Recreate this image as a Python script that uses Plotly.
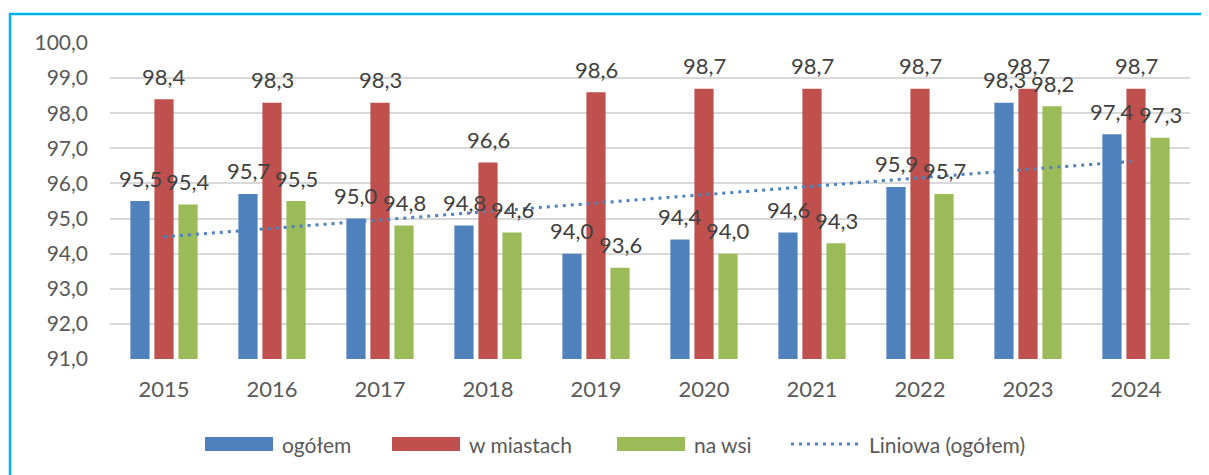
import numpy as np
import plotly.graph_objects as go

# ---- data ----
years = ["2015", "2016", "2017", "2018", "2019", "2020", "2021", "2022", "2023", "2024"]
ogolem = [95.5, 95.7, 95.0, 94.8, 94.0, 94.4, 94.6, 95.9, 98.3, 97.4]
w_miastach = [98.4, 98.3, 98.3, 96.6, 98.6, 98.7, 98.7, 98.7, 98.7, 98.7]
na_wsi = [95.4, 95.5, 94.8, 94.6, 93.6, 94.0, 94.3, 95.7, 98.2, 97.3]
series_names = ["ogółem", "w miastach", "na wsi", "Liniowa (ogółem)"]
y_ticks = [91, 92, 93, 94, 95, 96, 97, 98, 99, 100]

# ---- style ----
COLORS = ["#4F81BD", "#C0504D", "#9BBB59"]
FONT = "Lato"
TXT = "#595959"
LBL = "#404040"
OFF = 8  # default page body margin
W, H = 1209 - OFF, 475 - OFF
L, R, T, B = 110 - OFF, 1190 - OFF, 43 - OFF, 359 - OFF  # plot area in figure px


def px2x(px):
    return (px - OFF - L) / (R - L)


def py2y(py):
    return (B - (py - OFF)) / (B - T)


fig = go.Figure()
series = [ogolem, w_miastach, na_wsi]
for vals, name, col in zip(series, series_names[:3], COLORS):
    fig.add_trace(go.Bar(
        x=years, y=vals, name=name, marker_color=col,
        marker_line_width=0, showlegend=False,
    ))

# linear trend of ogółem
idx = np.arange(1, len(years) + 1)
slope, intercept = np.polyfit(idx, ogolem, 1)
trend = slope * idx + intercept
fig.add_trace(go.Scatter(
    x=years, y=trend, mode="lines", name=series_names[3],
    line=dict(color=COLORS[0], width=3, dash="3px,5px"), showlegend=False,
))

# data labels
annotations = []
offsets = [-24, 0, 24]
for vals, off in zip(series, offsets):
    for i, v in enumerate(vals):
        annotations.append(dict(
            x=i, y=v, xref="x", yref="y", text=f"{v:.1f}".replace(".", ","),
            showarrow=False, xshift=off, yshift=23,
            font=dict(family=FONT, size=22, color=LBL),
        ))

# custom legend
shapes = []
legend_items = [
    (205, 273, 280, "bar", COLORS[0], series_names[0]),
    (392, 460, 467, "bar", COLORS[1], series_names[1]),
    (617, 685, 692, "bar", COLORS[2], series_names[2]),
    (791, 861, 867, "line", COLORS[0], series_names[3]),
]
for x0, x1, tx, kind, col, name in legend_items:
    if kind == "bar":
        shapes.append(dict(type="rect", xref="paper", yref="paper",
                           x0=px2x(x0), x1=px2x(x1), y0=py2y(451), y1=py2y(437),
                           fillcolor=col, line_width=0))
    else:
        shapes.append(dict(type="line", xref="paper", yref="paper",
                           x0=px2x(x0), x1=px2x(x1), y0=py2y(444), y1=py2y(444),
                           line=dict(color=col, width=3, dash="3px,5px")))
    annotations.append(dict(
        x=px2x(tx), y=py2y(444), xref="paper", yref="paper", text=name,
        xanchor="left", yanchor="middle", showarrow=False,
        font=dict(family=FONT, size=21, color=TXT),
    ))

# outer cyan frame
shapes.append(dict(type="rect", xref="paper", yref="paper",
                   x0=px2x(10), x1=px2x(1215), y0=py2y(480), y1=py2y(14),
                   line=dict(color="#00B0F0", width=2.5), fillcolor="rgba(0,0,0,0)",
                   layer="above"))

fig.update_layout(
    width=W, height=H,
    margin=dict(l=L, r=W - R, t=T, b=H - B, pad=0),
    paper_bgcolor="white", plot_bgcolor="white",
    barmode="group", bargap=0.333, bargroupgap=0.2,
    separators=", ",
    font=dict(family=FONT, size=20, color=TXT),
    showlegend=False,
    annotations=annotations, shapes=shapes,
    xaxis=dict(type="category", showgrid=False, showline=False, zeroline=False,
               range=[-0.5, len(years) - 0.5],
               tickfont=dict(family=FONT, size=22, color=TXT), ticks="",
               ticklabelstandoff=15),
    yaxis=dict(range=[91, 100], tickvals=y_ticks, tickformat=".1f",
               showgrid=True, gridcolor="#D9D9D9", gridwidth=2,
               zeroline=False, showline=False, ticks="",
               tickfont=dict(family=FONT, size=21, color=TXT),
               ticklabelstandoff=21),
)

fig.write_html("out.html")
